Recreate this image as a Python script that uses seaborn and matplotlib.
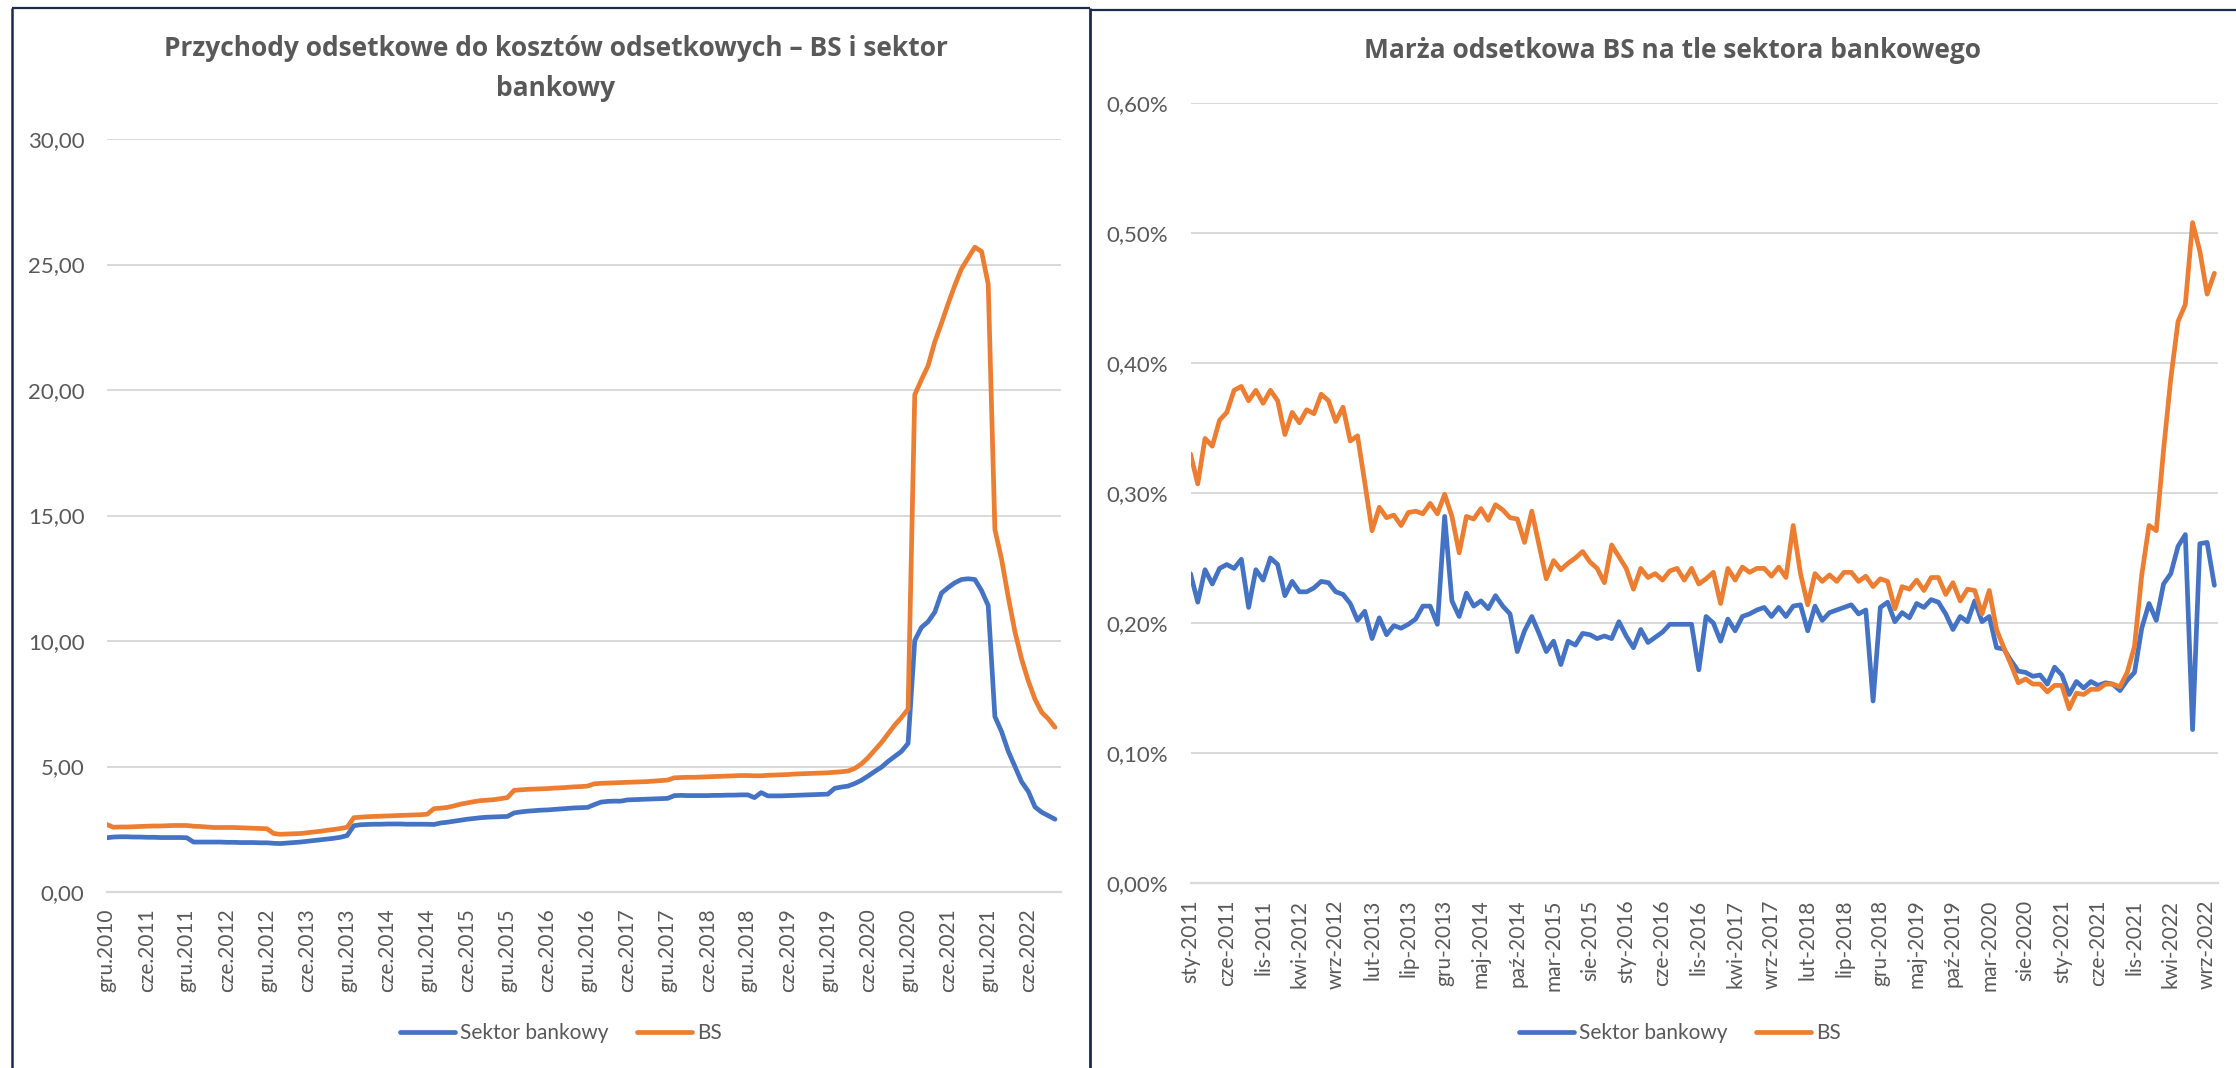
import numpy as np
import pandas as pd
import matplotlib
matplotlib.use("Agg")
import matplotlib.pyplot as plt
from matplotlib.lines import Line2D
from matplotlib.ticker import FuncFormatter, MultipleLocator
import seaborn as sns

# Przychody odsetkowe / koszty odsetkowe, miesięcznie gru.2010 - paź.2022
ratio_sektor = [
    2.16, 2.19, 2.20, 2.20, 2.19, 2.19, 2.18, 2.18, 2.17, 2.17,
    2.17, 2.17, 2.16, 1.99, 1.99, 1.99, 1.99, 1.99, 1.98, 1.98,
    1.97, 1.97, 1.97, 1.96, 1.96, 1.94, 1.93, 1.95, 1.97, 1.99,
    2.02, 2.05, 2.08, 2.11, 2.14, 2.18, 2.25, 2.64, 2.68, 2.69,
    2.70, 2.70, 2.71, 2.71, 2.71, 2.70, 2.70, 2.70, 2.70, 2.69,
    2.75, 2.78, 2.82, 2.86, 2.90, 2.93, 2.96, 2.98, 2.99, 3.00,
    3.01, 3.15, 3.19, 3.22, 3.24, 3.26, 3.27, 3.29, 3.31, 3.33,
    3.35, 3.36, 3.37, 3.48, 3.58, 3.61, 3.62, 3.62, 3.67, 3.68,
    3.69, 3.70, 3.71, 3.72, 3.73, 3.84, 3.85, 3.84, 3.84, 3.84,
    3.84, 3.85, 3.85, 3.86, 3.86, 3.87, 3.87, 3.76, 3.96, 3.83,
    3.83, 3.83, 3.84, 3.85, 3.86, 3.87, 3.88, 3.89, 3.90, 4.13,
    4.18, 4.22, 4.32, 4.45, 4.62, 4.80, 4.97, 5.20, 5.40, 5.60,
    5.92, 10.02, 10.54, 10.77, 11.15, 11.91, 12.13, 12.32, 12.45, 12.48,
    12.45, 12.01, 11.41, 6.99, 6.39, 5.61, 5.00, 4.39, 4.01, 3.39,
    3.18, 3.04, 2.90,
]
ratio_bs = [
    2.69, 2.58, 2.59, 2.59, 2.60, 2.61, 2.62, 2.63, 2.63, 2.64,
    2.65, 2.65, 2.65, 2.62, 2.61, 2.59, 2.57, 2.57, 2.57, 2.57,
    2.56, 2.55, 2.54, 2.53, 2.52, 2.33, 2.30, 2.31, 2.32, 2.33,
    2.36, 2.39, 2.42, 2.46, 2.49, 2.53, 2.58, 2.96, 2.98, 3.00,
    3.01, 3.02, 3.03, 3.04, 3.05, 3.06, 3.07, 3.08, 3.10, 3.32,
    3.34, 3.37, 3.43, 3.50, 3.55, 3.60, 3.64, 3.66, 3.68, 3.72,
    3.76, 4.05, 4.07, 4.09, 4.10, 4.11, 4.12, 4.14, 4.15, 4.17,
    4.19, 4.20, 4.22, 4.31, 4.33, 4.34, 4.35, 4.36, 4.37, 4.38,
    4.39, 4.40, 4.42, 4.44, 4.46, 4.55, 4.56, 4.57, 4.57, 4.58,
    4.59, 4.60, 4.61, 4.62, 4.63, 4.64, 4.64, 4.63, 4.63, 4.65,
    4.66, 4.67, 4.68, 4.70, 4.71, 4.72, 4.73, 4.74, 4.75, 4.77,
    4.79, 4.82, 4.92, 5.10, 5.35, 5.65, 5.95, 6.30, 6.65, 6.95,
    7.28, 19.81, 20.41, 20.97, 21.92, 22.66, 23.44, 24.17, 24.83, 25.26,
    25.69, 25.52, 24.22, 14.44, 13.26, 11.75, 10.37, 9.28, 8.41, 7.68,
    7.16, 6.90, 6.56,
]
ratio_ticklabels = [
    "gru.2010", "cze.2011", "gru.2011", "cze.2012", "gru.2012", "cze.2013",
    "gru.2013", "cze.2014", "gru.2014", "cze.2015", "gru.2015", "cze.2016",
    "gru.2016", "cze.2017", "gru.2017", "cze.2018", "gru.2018", "cze.2019",
    "gru.2019", "cze.2020", "gru.2020", "cze.2021", "gru.2021", "cze.2022",
]

# Marża odsetkowa (%), miesięcznie sty-2011 - paź-2022
margin_sektor = [
    0.238, 0.216, 0.241, 0.230, 0.242, 0.245, 0.242, 0.249, 0.212, 0.241,
    0.233, 0.250, 0.245, 0.221, 0.232, 0.224, 0.224, 0.227, 0.232, 0.231,
    0.224, 0.222, 0.215, 0.202, 0.209, 0.188, 0.204, 0.191, 0.198, 0.196,
    0.199, 0.203, 0.213, 0.213, 0.199, 0.282, 0.217, 0.205, 0.223, 0.213,
    0.217, 0.211, 0.221, 0.213, 0.207, 0.178, 0.194, 0.205, 0.192, 0.178,
    0.186, 0.168, 0.186, 0.183, 0.192, 0.191, 0.188, 0.190, 0.188, 0.201,
    0.190, 0.181, 0.195, 0.185, 0.189, 0.193, 0.199, 0.199, 0.199, 0.199,
    0.164, 0.205, 0.200, 0.186, 0.203, 0.194, 0.205, 0.207, 0.210, 0.212,
    0.205, 0.212, 0.205, 0.213, 0.214, 0.194, 0.213, 0.202, 0.208, 0.210,
    0.212, 0.214, 0.207, 0.210, 0.140, 0.212, 0.216, 0.201, 0.208, 0.204,
    0.215, 0.212, 0.218, 0.216, 0.207, 0.195, 0.205, 0.201, 0.217, 0.201,
    0.205, 0.181, 0.180, 0.171, 0.163, 0.162, 0.159, 0.160, 0.153, 0.166,
    0.160, 0.145, 0.155, 0.150, 0.155, 0.152, 0.154, 0.153, 0.148, 0.156,
    0.162, 0.196, 0.215, 0.202, 0.230, 0.238, 0.259, 0.268, 0.118, 0.261,
    0.262, 0.229,
]
margin_bs = [
    0.330, 0.307, 0.342, 0.336, 0.356, 0.362, 0.379, 0.382, 0.371, 0.379,
    0.369, 0.379, 0.371, 0.345, 0.362, 0.354, 0.364, 0.361, 0.376, 0.371,
    0.355, 0.366, 0.340, 0.344, 0.308, 0.271, 0.289, 0.281, 0.283, 0.275,
    0.285, 0.286, 0.284, 0.292, 0.284, 0.299, 0.282, 0.254, 0.282, 0.280,
    0.288, 0.279, 0.291, 0.287, 0.281, 0.280, 0.262, 0.286, 0.260, 0.234,
    0.248, 0.241, 0.246, 0.250, 0.255, 0.247, 0.242, 0.231, 0.260, 0.251,
    0.242, 0.226, 0.242, 0.235, 0.238, 0.233, 0.240, 0.242, 0.233, 0.242,
    0.230, 0.234, 0.239, 0.215, 0.242, 0.233, 0.243, 0.239, 0.242, 0.242,
    0.236, 0.243, 0.235, 0.275, 0.238, 0.214, 0.238, 0.232, 0.237, 0.232,
    0.239, 0.239, 0.232, 0.236, 0.228, 0.234, 0.232, 0.211, 0.228, 0.226,
    0.233, 0.225, 0.235, 0.235, 0.222, 0.231, 0.217, 0.226, 0.225, 0.207,
    0.225, 0.195, 0.181, 0.168, 0.154, 0.157, 0.153, 0.153, 0.147, 0.152,
    0.152, 0.134, 0.146, 0.145, 0.149, 0.149, 0.153, 0.153, 0.151, 0.162,
    0.182, 0.237, 0.275, 0.271, 0.333, 0.388, 0.432, 0.445, 0.508, 0.486,
    0.453, 0.469,
]
margin_ticklabels = [
    "sty-2011", "cze-2011", "lis-2011", "kwi-2012", "wrz-2012", "lut-2013",
    "lip-2013", "gru-2013", "maj-2014", "paź-2014", "mar-2015", "sie-2015",
    "sty-2016", "cze-2016", "lis-2016", "kwi-2017", "wrz-2017", "lut-2018",
    "lip-2018", "gru-2018", "maj-2019", "paź-2019", "mar-2020", "sie-2020",
    "sty-2021", "cze-2021", "lis-2021", "kwi-2022", "wrz-2022",
]

SERIES = ["Sektor bankowy", "BS"]
PALETTE = {"Sektor bankowy": "#4472C4", "BS": "#ED7D31"}
TEXT = "#595959"
GRID = "#D9D9D9"
FRAME = "#1C2B4B"
LW = 3.4

sns.set_style("white")
plt.rcParams["font.family"] = ["Lato", "DejaVu Sans"]

W, H = 2236, 1068
fig = plt.figure(figsize=(W / 100, H / 100), dpi=100)


def fx(x):
    return x / W


def fy(y):
    return 1 - y / H


def long_frame(sektor, bs):
    df = pd.DataFrame({"pos": np.arange(len(bs)), "Sektor bankowy": sektor, "BS": bs})
    return df.melt(id_vars="pos", var_name="seria", value_name="wartosc")


def draw_panel(ax, df, xmax, ymax, ystep, tick_every, ticklabels, fmt):
    sns.lineplot(data=df, x="pos", y="wartosc", hue="seria", hue_order=SERIES,
                 palette=PALETTE, linewidth=LW, estimator=None, legend=False,
                 ax=ax, solid_joinstyle="round", solid_capstyle="round")
    ax.set_xlim(0, xmax)
    ax.set_ylim(0, ymax)
    ax.yaxis.set_major_locator(MultipleLocator(ystep))
    ax.yaxis.set_major_formatter(FuncFormatter(fmt))
    ax.set_xticks(np.arange(len(ticklabels)) * tick_every)
    ax.set_xticklabels(ticklabels, rotation=90)
    ax.set_xlabel("")
    ax.set_ylabel("")
    ax.grid(axis="y", color=GRID, linewidth=1.4)
    ax.set_axisbelow(True)
    for side in ("left", "right", "top"):
        ax.spines[side].set_visible(False)
    ax.spines["bottom"].set_color(GRID)
    ax.spines["bottom"].set_linewidth(1.6)
    ax.tick_params(axis="y", length=0, pad=16, labelsize=16, labelcolor=TEXT)
    ax.tick_params(axis="x", length=5, width=1.2, color=GRID, direction="out",
                   pad=7, labelsize=15, labelcolor=TEXT)


# Lewy panel: przychody do kosztów odsetkowych
ax1 = fig.add_axes([fx(106.7), fy(892), fx(1061) - fx(106.7), fy(139) - fy(892)])
draw_panel(ax1, long_frame(ratio_sektor, ratio_bs), 142.9, 30, 5, 6, ratio_ticklabels,
           lambda v, p: f"{v:.2f}".replace(".", ","))

# Prawy panel: marża odsetkowa
ax2 = fig.add_axes([fx(1190.5), fy(883), fx(2218) - fx(1190.5), fy(103) - fy(883)])
draw_panel(ax2, long_frame(margin_sektor, margin_bs), 141.5, 0.6, 0.1, 5, margin_ticklabels,
           lambda v, p: f"{v:.2f}%".replace(".", ","))

# Tytuły
title_kw = dict(ha="center", va="baseline", fontsize=19, fontweight="bold", color=TEXT,
                family=["Open Sans", "Lato", "DejaVu Sans"])
fig.text(fx(556), fy(56), "Przychody odsetkowe do kosztów odsetkowych – BS i sektor", **title_kw)
fig.text(fx(556), fy(96), "bankowy", **title_kw)
fig.text(fx(1672), fy(58), "Marża odsetkowa BS na tle sektora bankowego", **title_kw)

# Legendy
handles = [Line2D([], [], color=PALETTE[s], linewidth=LW, solid_capstyle="round") for s in SERIES]
for cx in (561, 1680):
    fig.legend(handles, SERIES, loc="center", bbox_to_anchor=(fx(cx), fy(1033)),
               ncol=2, frameon=False, fontsize=15, labelcolor=TEXT,
               handlelength=2.6, handletextpad=0.25, columnspacing=1.4)

# Ramki wykresów
frame_kw = dict(transform=fig.transFigure, color=FRAME, solid_capstyle="butt")
fig.add_artist(Line2D([fx(12), fx(12)], [fy(7.5), fy(1080)], linewidth=1.8, **frame_kw))
fig.add_artist(Line2D([fx(12), fx(1090)], [fy(7.5), fy(7.5)], linewidth=1.6, **frame_kw))
fig.add_artist(Line2D([fx(1090), fx(1090)], [fy(7.5), fy(1080)], linewidth=2.0, **frame_kw))
fig.add_artist(Line2D([fx(1090), fx(2240)], [fy(9.5), fy(9.5)], linewidth=1.6, **frame_kw))

fig.savefig("out.png", dpi=100, facecolor="white")
